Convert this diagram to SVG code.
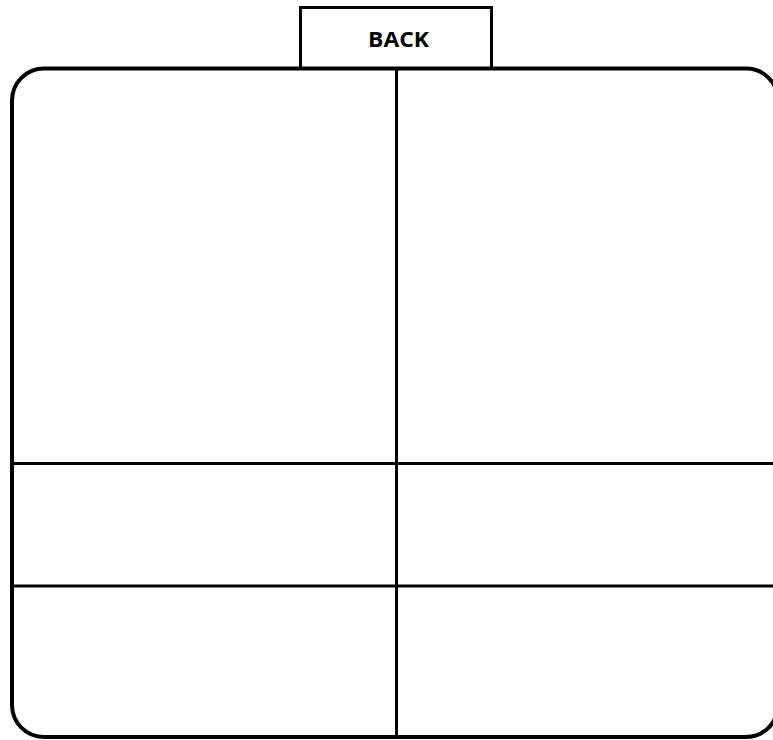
<svg xmlns="http://www.w3.org/2000/svg" width="773" height="740" viewBox="0 0 773 740">
<style>
.frame{fill:#fff;stroke:#000;stroke-width:4}
.line{stroke:#000;stroke-width:3;fill:none}
.tab{fill:#fff;stroke:#000;stroke-width:3}
.lbl{font-family:"Open Sans","Liberation Sans",sans-serif;font-weight:bold;font-size:21px;fill:#000}
</style>
<rect width="773" height="740" fill="#fff"/>
<g id="back-tab">
<rect class="tab" x="300.5" y="7.5" width="191" height="62"/>
<text class="lbl" x="398.5" y="47" text-anchor="middle" textLength="61" lengthAdjust="spacingAndGlyphs">BACK</text>
</g>
<g id="frame">
<rect class="frame" x="12" y="68.5" width="766" height="668.5" rx="32" ry="32"/>
</g>
<g id="connectors">
<line class="line" x1="396.5" y1="70" x2="396.5" y2="736"/>
<line class="line" x1="13" y1="463.5" x2="778" y2="463.5"/>
<line class="line" x1="13" y1="586" x2="778" y2="586"/>
</g>
</svg>
